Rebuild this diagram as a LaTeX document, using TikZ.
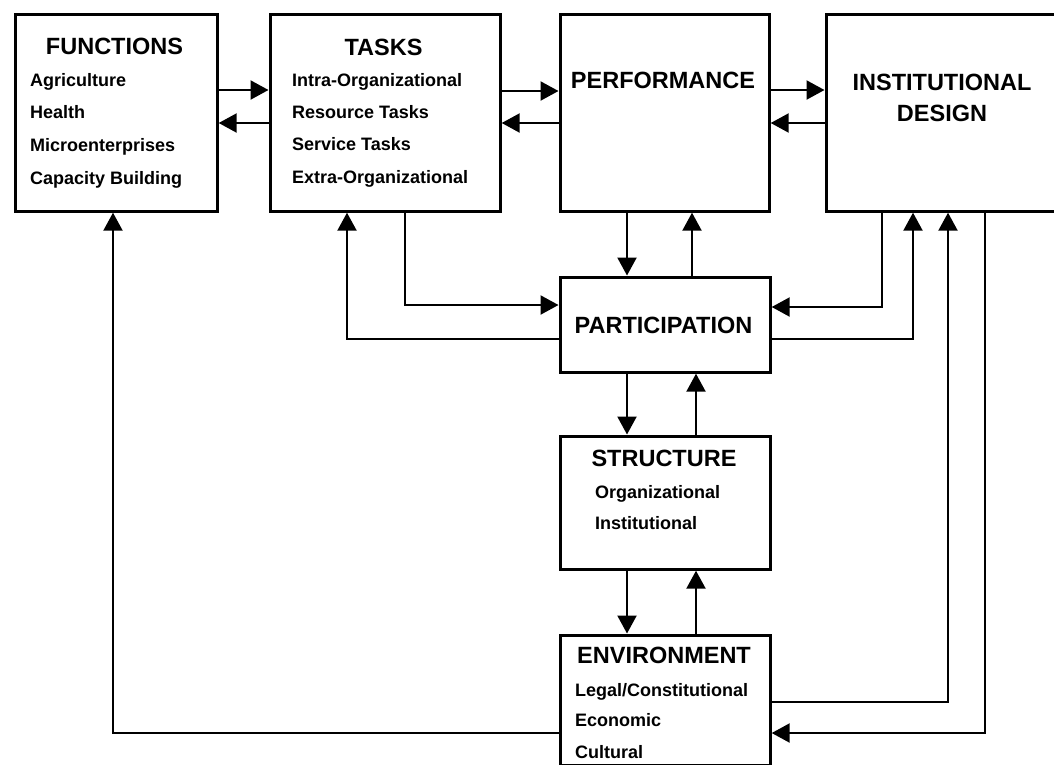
\documentclass[tikz,border=0pt]{standalone}
\usepackage{fontspec}
\setmainfont{Liberation Sans}
\usetikzlibrary{arrows.meta}
\begin{document}
\begin{tikzpicture}[x=1pt,y=-1pt,
  box/.style={draw,line width=3.2pt,anchor=north west,inner sep=0pt},
  ttl/.style={font=\fontsize{23.5}{27}\selectfont\bfseries,anchor=base,inner sep=0pt},
  itm/.style={font=\fontsize{18}{21}\selectfont\bfseries,anchor=base west,inner sep=0pt},
  con/.style={line width=2.2pt},
  arr/.style={con,-{Triangle[length=18pt,width=19pt]}}]
\clip (0,0) rectangle (1054,764);
\fill[white] (0,0) rectangle (1054,764);
% boxes
\node[box,minimum width=202pt,minimum height=197pt] (fun) at (13.5,12.5) {};
\node[box,minimum width=230pt,minimum height=197pt] (tasks) at (268.5,12.5) {};
\node[box,minimum width=209pt,minimum height=197pt] (perf) at (558.5,12.5) {};
\node[box,minimum width=236pt,minimum height=197pt] (id) at (824.5,12.5) {};
\node[box,minimum width=210pt,minimum height=95pt] (part) at (558.5,275.5) {};
\node[box,minimum width=210pt,minimum height=133pt] (struct) at (558.5,434.5) {};
\node[box,minimum width=210pt,minimum height=130pt] (env) at (558.5,633.5) {};
% texts
\node[ttl] (funT) at (114.5,54.5) {FUNCTIONS};
\node[itm] (fun1) at (30,86.5) {Agriculture};
\node[itm] (fun2) at (30,118.5) {Health};
\node[itm] (fun3) at (30,151.5) {Microenterprises};
\node[itm] (fun4) at (30,184.5) {Capacity Building};
\node[ttl] (tasksT) at (383.5,55.5) {TASKS};
\node[itm] (tasks1) at (292,86.5) {Intra-Organizational};
\node[itm] (tasks2) at (292,118.5) {Resource Tasks};
\node[itm] (tasks3) at (292,150.5) {Service Tasks};
\node[itm] (tasks4) at (292,183.5) {Extra-Organizational};
\node[ttl] (perfT) at (663,88.5) {PERFORMANCE};
\node[ttl] (idT1) at (942,90.5) {INSTITUTIONAL};
\node[ttl] (idT2) at (942,121.5) {DESIGN};
\node[ttl] (partT) at (663.5,333.5) {PARTICIPATION};
\node[ttl] (structT) at (664,466.5) {STRUCTURE};
\node[itm] (struct1) at (595,498.5) {Organizational};
\node[itm] (struct2) at (595,529.5) {Institutional};
\node[ttl] (envT) at (664,663.5) {ENVIRONMENT};
\node[itm] (env1) at (575,696.5) {Legal/Constitutional};
\node[itm] (env2) at (575,726.5) {Economic};
\node[itm] (env3) at (575,758.5) {Cultural};
% helper coordinates
\coordinate (h90) at (0,90);
\coordinate (h91) at (0,91);
\coordinate (h123) at (0,123);
\coordinate (h305) at (0,305);
\coordinate (h307) at (0,307);
\coordinate (h339) at (0,339);
\coordinate (h702) at (0,702);
\coordinate (h733) at (0,733);
\coordinate (v113) at (113,0);
\coordinate (v347) at (347,0);
\coordinate (v405) at (405,0);
\coordinate (v627) at (627,0);
\coordinate (v692) at (692,0);
\coordinate (v696) at (696,0);
\coordinate (v882) at (882,0);
\coordinate (v913) at (913,0);
\coordinate (v948) at (948,0);
\coordinate (v985) at (985,0);
% top row
\draw[arr] (fun.east |- h90) -- (tasks.west |- h90);
\draw[arr] (tasks.west |- h123) -- (fun.east |- h123);
\draw[arr] (tasks.east |- h91) -- (perf.west |- h91);
\draw[arr] (perf.west |- h123) -- (tasks.east |- h123);
\draw[arr] (perf.east |- h90) -- (id.west |- h90);
\draw[arr] (id.west |- h123) -- (perf.east |- h123);
% tasks <-> participation
\draw[arr] (tasks.south -| v405) -- (v405 |- h305) -- (part.west |- h305);
\draw[arr] (part.west |- h339) -- (v347 |- h339) -- (tasks.south -| v347);
% performance <-> participation
\draw[arr] (perf.south -| v627) -- (part.north -| v627);
\draw[arr] (part.north -| v692) -- (perf.south -| v692);
% institutional design <-> participation
\draw[arr] (id.south -| v882) -- (v882 |- h307) -- (part.east |- h307);
\draw[arr] (part.east |- h339) -- (v913 |- h339) -- (id.south -| v913);
% participation <-> structure
\draw[arr] (part.south -| v627) -- (struct.north -| v627);
\draw[arr] (struct.north -| v696) -- (part.south -| v696);
% structure <-> environment
\draw[arr] (struct.south -| v627) -- (env.north -| v627);
\draw[arr] (env.north -| v696) -- (struct.south -| v696);
% environment <-> institutional design
\draw[arr] (env.east |- h702) -- (v948 |- h702) -- (id.south -| v948);
\draw[arr] (id.south -| v985) -- (v985 |- h733) -- (env.east |- h733);
% environment -> functions
\draw[arr] (env.west |- h733) -- (v113 |- h733) -- (fun.south -| v113);
\end{tikzpicture}
\end{document}
